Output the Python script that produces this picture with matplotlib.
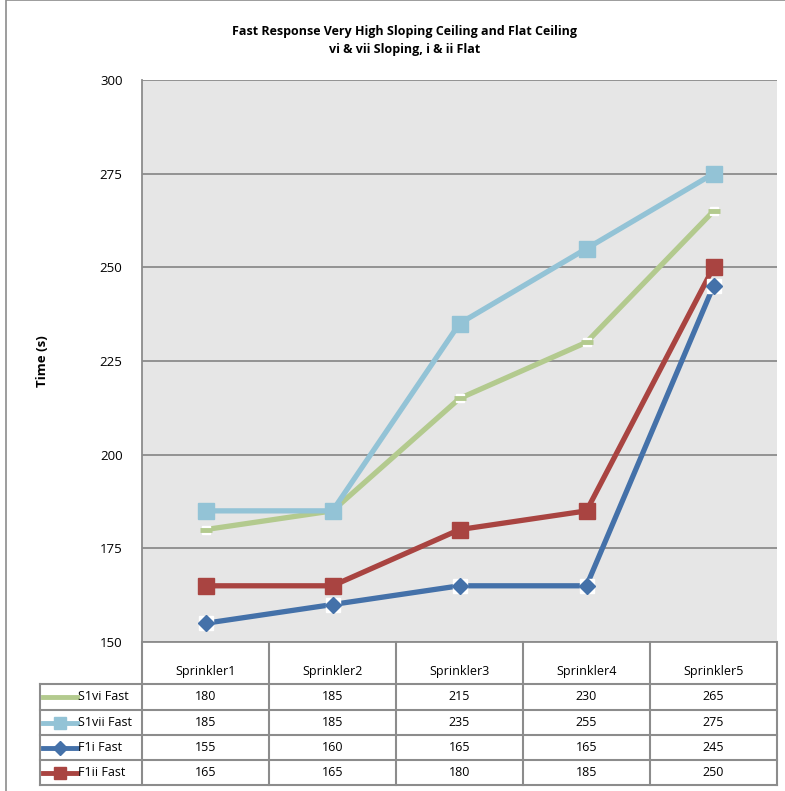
import matplotlib
matplotlib.use("Agg")
import matplotlib.pyplot as plt
from matplotlib.lines import Line2D
from matplotlib.patches import Rectangle

categories = ["Sprinkler1", "Sprinkler2", "Sprinkler3", "Sprinkler4", "Sprinkler5"]
series_names = ["S1vi Fast", "S1vii Fast", "F1i Fast", "F1ii Fast"]
s1vi = [180, 185, 215, 230, 265]
s1vii = [185, 185, 235, 255, 275]
f1i = [155, 160, 165, 165, 245]
f1ii = [165, 165, 180, 185, 250]
series_values = [s1vi, s1vii, f1i, f1ii]
y_ticks = [150, 175, 200, 225, 250, 275, 300]

colors = ["#B3CA8E", "#93C3D6", "#4471A9", "#A94441"]
markers = ["_", "s", "D", "s"]
msizes = [9, 11, 8, 11]

W, H = 785, 791
fig = plt.figure(figsize=(W / 100, H / 100), dpi=100)
fig.patch.set_facecolor("white")
plt.rcParams["font.family"] = ["Open Sans", "DejaVu Sans"]

def fx(px):
    return px / W

def fy(py):
    return 1 - py / H

# outer chart frame
fig.add_artist(Rectangle((fx(6), fy(800)), fx(800), 800 / H, transform=fig.transFigure,
                         fill=False, edgecolor="#8C8C8C", linewidth=1.2))

L, R, T, B = 142, 777, 80, 642
ax = fig.add_axes([fx(L), fy(B), fx(R) - fx(L), fy(T) - fy(B)])
ax.set_facecolor("#E6E6E6")
ax.set_xlim(-0.5, len(categories) - 0.5)
ax.set_ylim(150, 300)
ax.set_yticks(y_ticks)
ax.set_yticklabels([str(v) for v in y_ticks], fontsize=9.5)
ax.tick_params(axis="y", length=0, pad=14)
ax.set_xticks([])
ax.yaxis.grid(True, color="#8C8C8C", linewidth=1.3)
ax.set_axisbelow(True)
for side in ["top", "right"]:
    ax.spines[side].set_visible(False)
ax.spines["left"].set_color("#8C8C8C")
ax.spines["left"].set_linewidth(1.3)
ax.spines["bottom"].set_color("#8C8C8C")
ax.spines["bottom"].set_linewidth(1.3)

x = list(range(len(categories)))
for vals, c, m, ms in zip(series_values, colors, markers, msizes):
    ax.plot(x, vals, color=c, linewidth=3.8, zorder=3, solid_capstyle="butt")
    if m == "D":
        ax.plot(x, vals, linestyle="none", marker="s", markersize=ms + 2,
                markerfacecolor="white", markeredgecolor="white", zorder=4)
    if m == "_":
        ax.plot(x, vals, linestyle="none", marker="s", markersize=6,
                markerfacecolor="white", markeredgecolor="white", zorder=4)
        ax.plot(x, vals, linestyle="none", marker="_", markersize=ms,
                markeredgewidth=3.5, color=c, zorder=5)
    else:
        ax.plot(x, vals, linestyle="none", marker=m, markersize=ms,
                color=c, markeredgecolor=c, zorder=5)

fig.text(fx(405), fy(31), "Fast Response Very High Sloping Ceiling and Flat Ceiling",
         ha="center", va="center", fontsize=9, fontweight="bold")
fig.text(fx(405), fy(50), "vi & vii Sloping, i & ii Flat",
         ha="center", va="center", fontsize=9, fontweight="bold")
fig.text(fx(42), fy(361), "Time (s)", rotation=90, ha="center", va="center",
         fontsize=9.5, fontweight="bold")

# data table
col_edges = [L + (R - L) * i / len(categories) for i in range(len(categories) + 1)]
row_edges = [684, 710, 735, 760, 785]
grid_kw = dict(color="#8C8C8C", linewidth=1.5, transform=fig.transFigure)
for xe in col_edges:
    fig.add_artist(Line2D([fx(xe), fx(xe)], [fy(B), fy(row_edges[-1])], **grid_kw))
fig.add_artist(Line2D([fx(40), fx(40)], [fy(row_edges[0]), fy(row_edges[-1])], **grid_kw))
for ye in row_edges:
    fig.add_artist(Line2D([fx(40), fx(R)], [fy(ye), fy(ye)], **grid_kw))

for i, cat in enumerate(categories):
    cx = (col_edges[i] + col_edges[i + 1]) / 2
    fig.text(fx(cx), fy(672), cat, ha="center", va="center", fontsize=9)

for r, (name, vals, c, m) in enumerate(zip(series_names, series_values, colors, markers)):
    cy = (row_edges[r] + row_edges[r + 1]) / 2
    fig.add_artist(Line2D([fx(43), fx(77)], [fy(cy), fy(cy)], color=c, linewidth=3.5,
                          transform=fig.transFigure))
    if m != "_":
        fig.add_artist(Line2D([fx(60)], [fy(cy)], marker=m, markersize=7 if m == "D" else 8,
                              color=c, transform=fig.transFigure))
    fig.text(fx(78), fy(cy), name, ha="left", va="center", fontsize=9)
    for i, v in enumerate(vals):
        cx = (col_edges[i] + col_edges[i + 1]) / 2
        fig.text(fx(cx), fy(cy), str(v), ha="center", va="center", fontsize=9)

fig.savefig("out.png", dpi=100)
